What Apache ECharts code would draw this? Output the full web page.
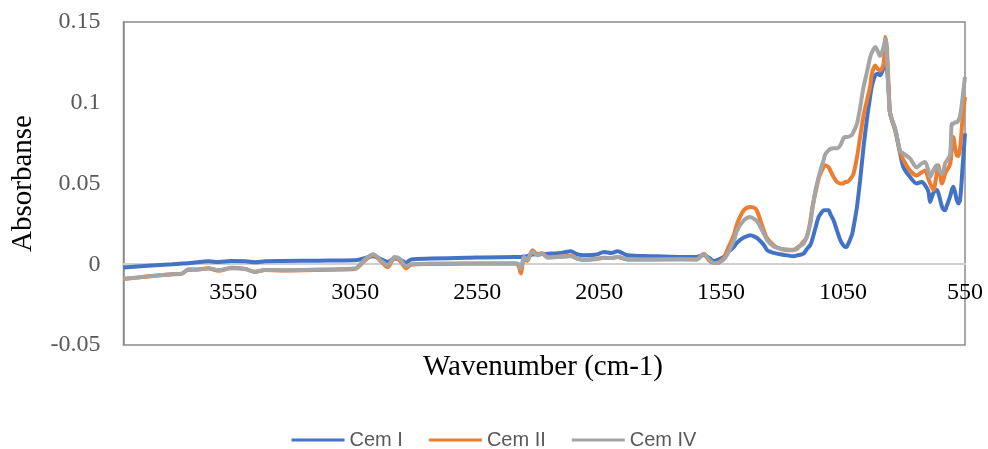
<!DOCTYPE html>
<html>
<head>
<meta charset="utf-8">
<title>FTIR Cem</title>
<script src="https://cdn.jsdelivr.net/npm/echarts@6/dist/echarts.min.js"></script>
<style>
  html, body { margin: 0; padding: 0; background: #fff; }
  #chart { width: 988px; height: 449px; }
</style>
</head>
<body>
<div id="chart"></div>
<script>
// wavenumber (cm-1), descending
var wavenumber = [4000, 3900, 3800, 3760, 3735, 3700, 3652, 3610, 3557, 3500, 3461, 3420, 3350, 3200, 3050, 3030, 3005, 2977, 2943, 2916, 2889, 2868, 2841, 2821, 2740, 2600, 2390, 2380, 2371, 2358, 2345, 2323, 2302, 2285, 2261, 2200, 2166, 2140, 2111, 2060, 2030, 2000, 1975, 1934, 1840, 1716, 1650, 1621, 1600, 1580, 1566, 1539, 1525, 1498, 1484, 1457, 1430, 1409, 1400, 1375, 1361, 1334, 1307, 1279, 1252, 1238, 1212, 1198, 1184, 1177, 1164, 1150, 1143, 1130, 1123, 1109, 1102, 1089, 1075, 1061, 1048, 1041, 1034, 1014, 1007, 993, 980, 966, 952, 939, 932, 918, 908, 898, 884, 876, 870, 862, 857, 836, 816, 802, 775, 748, 727, 714, 700, 693, 680, 666, 659, 652, 645, 639, 632, 625, 611, 604, 598, 590, 584, 577, 570, 560, 550];

var cemI = [-0.0020, -0.0010, 0.0000, 0.0004, 0.0006, 0.0012, 0.0018, 0.0014, 0.0020, 0.0018, 0.0012, 0.0018, 0.0020, 0.0022, 0.0025, 0.0030, 0.0040, 0.0050, 0.0030, 0.0015, 0.0035, 0.0030, 0.0010, 0.0030, 0.0035, 0.0040, 0.0045, 0.0045, 0.0045, 0.0048, 0.0050, 0.0060, 0.0062, 0.0063, 0.0065, 0.0072, 0.0080, 0.0062, 0.0056, 0.0060, 0.0076, 0.0070, 0.0080, 0.0056, 0.0050, 0.0045, 0.0045, 0.0058, 0.0040, 0.0020, 0.0025, 0.0045, 0.0070, 0.0107, 0.0135, 0.0165, 0.0180, 0.0168, 0.0159, 0.0120, 0.0087, 0.0070, 0.0062, 0.0055, 0.0050, 0.0055, 0.0066, 0.0095, 0.0120, 0.0149, 0.0220, 0.0293, 0.0310, 0.0334, 0.0335, 0.0334, 0.0310, 0.0272, 0.0210, 0.0149, 0.0115, 0.0107, 0.0110, 0.0180, 0.0230, 0.0355, 0.0520, 0.0726, 0.0900, 0.1036, 0.1100, 0.1170, 0.1180, 0.1170, 0.1220, 0.1300, 0.1220, 0.1050, 0.0934, 0.0830, 0.0687, 0.0600, 0.0540, 0.0500, 0.0510, 0.0490, 0.0450, 0.0386, 0.0440, 0.0460, 0.0440, 0.0400, 0.0360, 0.0340, 0.0334, 0.0360, 0.0420, 0.0460, 0.0480, 0.0440, 0.0400, 0.0376, 0.0400, 0.0600, 0.0810];

var cemII = [-0.0092, -0.0076, -0.0062, -0.0058, -0.0035, -0.0034, -0.0025, -0.0040, -0.0022, -0.0030, -0.0046, -0.0036, -0.0038, -0.0035, -0.0030, -0.0006, 0.0030, 0.0058, 0.0015, -0.0018, 0.0040, 0.0025, -0.0025, -0.0003, 0.0002, 0.0004, 0.0005, -0.0012, -0.0057, 0.0035, 0.0020, 0.0087, 0.0060, 0.0068, 0.0045, 0.0048, 0.0052, 0.0035, 0.0028, 0.0033, 0.0040, 0.0038, 0.0045, 0.0030, 0.0030, 0.0032, 0.0030, 0.0065, 0.0025, 0.0008, 0.0008, 0.0040, 0.0087, 0.0180, 0.0252, 0.0334, 0.0355, 0.0345, 0.0320, 0.0210, 0.0160, 0.0118, 0.0095, 0.0087, 0.0090, 0.0097, 0.0140, 0.0169, 0.0270, 0.0340, 0.0438, 0.0530, 0.0560, 0.0600, 0.0613, 0.0600, 0.0580, 0.0540, 0.0510, 0.0500, 0.0500, 0.0510, 0.0510, 0.0540, 0.0560, 0.0660, 0.0788, 0.0920, 0.1015, 0.1100, 0.1180, 0.1230, 0.1210, 0.1200, 0.1240, 0.1407, 0.1330, 0.1060, 0.0934, 0.0830, 0.0695, 0.0644, 0.0580, 0.0550, 0.0570, 0.0580, 0.0530, 0.0500, 0.0460, 0.0560, 0.0613, 0.0560, 0.0500, 0.0520, 0.0560, 0.0580, 0.0620, 0.0720, 0.0788, 0.0720, 0.0675, 0.0670, 0.0720, 0.0900, 0.1036];

var cemIV = [-0.0090, -0.0075, -0.0062, -0.0058, -0.0031, -0.0032, -0.0027, -0.0036, -0.0025, -0.0030, -0.0048, -0.0035, -0.0037, -0.0033, -0.0027, 0.0000, 0.0035, 0.0062, 0.0020, -0.0006, 0.0045, 0.0035, -0.0012, 0.0000, 0.0004, 0.0005, 0.0005, 0.0000, -0.0027, 0.0045, 0.0030, 0.0076, 0.0056, 0.0066, 0.0041, 0.0047, 0.0050, 0.0035, 0.0028, 0.0033, 0.0040, 0.0038, 0.0045, 0.0030, 0.0030, 0.0030, 0.0030, 0.0062, 0.0030, 0.0008, 0.0008, 0.0030, 0.0060, 0.0145, 0.0210, 0.0272, 0.0293, 0.0275, 0.0262, 0.0190, 0.0149, 0.0110, 0.0097, 0.0092, 0.0087, 0.0105, 0.0128, 0.0175, 0.0252, 0.0330, 0.0450, 0.0540, 0.0580, 0.0644, 0.0680, 0.0706, 0.0715, 0.0718, 0.0718, 0.0737, 0.0780, 0.0788, 0.0788, 0.0800, 0.0820, 0.0870, 0.0970, 0.1097, 0.1190, 0.1280, 0.1310, 0.1345, 0.1320, 0.1290, 0.1345, 0.1397, 0.1280, 0.1020, 0.0934, 0.0840, 0.0700, 0.0685, 0.0654, 0.0600, 0.0625, 0.0633, 0.0580, 0.0540, 0.0580, 0.0613, 0.0590, 0.0570, 0.0560, 0.0570, 0.0623, 0.0640, 0.0680, 0.0870, 0.0870, 0.0880, 0.0880, 0.0890, 0.0920, 0.1030, 0.1160];

var xTicks = [3550, 3050, 2550, 2050, 1550, 1050, 550];
var seriesNames = ['Cem I', 'Cem II', 'Cem IV'];
var seriesColors = ['#4472C4', '#ED7D31', '#A5A5A5'];

function pairs(vals) {
    return wavenumber.map(function (w, i) { return [w, vals[i]]; });
}

var chart = echarts.init(document.getElementById('chart'), null, { renderer: 'canvas' });

var option = {
    animation: false,
    backgroundColor: '#ffffff',
    color: seriesColors,
    // x axis title sits under the plot box, not under the zero line
    title: {
        text: 'Wavenumber (cm-1)',
        left: 423,
        top: 353,
        textStyle: { fontFamily: 'Liberation Serif', fontSize: 29, fontWeight: 'normal', color: '#000' },
        padding: 0
    },
    grid: {
        left: 123.5,
        right: 23,
        top: 22,
        bottom: 104,
        containLabel: false,
        outerBoundsMode: 'none',
        show: true,
        borderColor: '#8c8c8c',
        borderWidth: 1.5
    },
    legend: {
        data: seriesNames,
        left: 'center',
        top: 425,
        icon: 'rect',
        itemWidth: 53,
        itemHeight: 3,
        itemGap: 26,
        textStyle: { fontFamily: 'Liberation Sans', fontSize: 20, color: '#595959' }
    },
    xAxis: {
        type: 'value',
        inverse: true,
        min: 550,
        max: 4000,
        // axis drawn across the plot at absorbance 0 (offset up from the bottom edge)
        offset: -81,
        axisLine: { onZero: false, lineStyle: { color: '#d0d0d0', width: 2 } },
        axisTick: { show: false },
        splitLine: { show: false },
        axisLabel: {
            customValues: xTicks,
            margin: 17,
            alignMinLabel: 'center',
            alignMaxLabel: 'center',
            fontFamily: 'Liberation Serif',
            fontSize: 24,
            color: '#000',
            formatter: function (v) { return String(v); }
        }
    },
    yAxis: {
        type: 'value',
        min: -0.05,
        max: 0.15,
        interval: 0.05,
        name: 'Absorbanse',
        nameLocation: 'middle',
        nameRotate: 90,
        nameGap: 86,
        nameTextStyle: { fontFamily: 'Liberation Serif', fontSize: 29, color: '#000' },
        axisLine: { show: true, lineStyle: { color: '#8c8c8c', width: 1.5 } },
        axisTick: { show: false },
        splitLine: { show: false },
        axisLabel: {
            margin: 23,
            fontFamily: 'Liberation Serif',
            fontSize: 24,
            color: '#595959'
        }
    },
    series: [cemI, cemII, cemIV].map(function (vals, i) {
        return {
            name: seriesNames[i],
            type: 'line',
            data: pairs(vals),
            showSymbol: false,
            smooth: 0.3,
            lineStyle: { width: 4, color: seriesColors[i] }
        };
    })
};

chart.setOption(option);
</script>
</body>
</html>
